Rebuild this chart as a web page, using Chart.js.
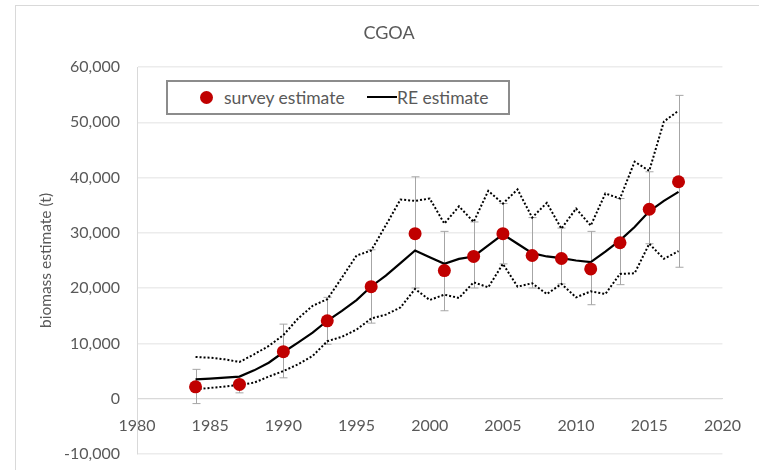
<!DOCTYPE html>
<html>
<head>
<meta charset="utf-8">
<title>CGOA</title>
<script src="https://cdn.jsdelivr.net/npm/chart.js@4"></script>
<style>
  html, body { margin: 0; padding: 0; background: #fff; overflow: hidden; }
  #wrap { position: relative; width: 759px; height: 470px; overflow: hidden; }
  #frame { position: absolute; left: 15px; top: 5px; width: 800px; height: 500px; border: 1px solid #d9d9d9; }
  #chart { position: absolute; left: 0; top: 0; }
  #legend { position: absolute; left: 166px; top: 80px; width: 340px; height: 31px; border: 2px solid #8c8c8c;
            font: 17.5px Lato, sans-serif; color: #595959; background: #fff; }
  #legend .txt { position: absolute; top: 0; line-height: 31px; white-space: nowrap; }
  #legend .dot { position: absolute; left: 32px; top: 9px; width: 13px; height: 13px; border-radius: 50%; background: #c00000; }
  #legend .line { position: absolute; left: 199px; top: 14px; width: 30px; height: 0; border-top: 2px solid #000; }
</style>
</head>
<body>
<div id="wrap">
  <div id="frame"></div>
  <canvas id="chart" width="759" height="470"></canvas>
  <div id="legend">
    <span class="dot"></span><span class="txt" style="left:56px">survey estimate</span>
    <span class="line"></span><span class="txt" style="left:229px">RE estimate</span>
  </div>
</div>
<script>
// survey years with estimate and the ends of its error bar
const surveyYears = [1984, 1987, 1990, 1993, 1996, 1999, 2001, 2003, 2005, 2007, 2009, 2011, 2013, 2015, 2017];
const survey     = [2150, 2580, 8510, 14090, 20270, 29850, 23180, 25730, 29850, 25900, 25360, 23480, 28210, 34270, 39240];
const surveyLow  = [-880, 1060, 3780, 9850, 13670, 20030, 15910, 20030, 24390, 20030, 20760, 17000, 20630, 28030, 23780];
const surveyHigh = [5310, 3300, 13490, 18330, 26940, 40140, 30270, 31970, 35300, 32760, 30870, 30270, 36210, 41050, 54870];

// random effects model, one value per year
const years = [1984, 1985, 1986, 1987, 1988, 1989, 1990, 1991, 1992, 1993, 1994, 1995, 1996, 1997, 1998, 1999, 2000,
               2001, 2002, 2003, 2004, 2005, 2006, 2007, 2008, 2009, 2010, 2011, 2012, 2013, 2014, 2015, 2016, 2017];
const reEst = [3490, 3650, 3800, 4000, 5130, 6510, 8400, 10150, 11960, 14100, 15900, 17850, 20300, 22270, 24510, 26820, 25600,
               24390, 25300, 25730, 27730, 29720, 28030, 26330, 25730, 25420, 25000, 24690, 26600, 28630, 31050, 33900, 35780, 37420];
const reUpper = [7540, 7420, 7120, 6640, 8030, 9540, 11500, 14500, 16800, 18000, 21900, 25900, 26800, 31360, 36030, 35780, 36210,
                 31670, 34800, 31970, 37600, 35300, 37850, 32760, 35420, 30760, 34400, 31300, 37120, 36210, 42870, 41230, 50140, 52090];
const reLower = [1700, 1950, 2200, 2500, 2900, 4000, 5000, 6220, 7730, 10400, 11200, 12500, 14500, 15200, 16500, 19850, 17850,
                 18820, 18220, 21050, 20150, 24390, 20270, 20880, 18940, 20760, 18330, 19420, 18940, 22580, 22690, 28030, 25300, 26690];

const yTicksMin = -10000;
const yTicksMax = 60000;
const xTicksMin = 1980;
const xTicksMax = 2020;

const textColor = '#595959';
Chart.defaults.font.family = 'Lato, sans-serif';

const pts = (xs, ys) => xs.map((x, i) => ({ x, y: ys[i] }));

// gray survey error bars, drawn below the lines
const errorBars = {
  id: 'errorBars',
  beforeDatasetsDraw(chart) {
    const { ctx, scales: { x, y } } = chart;
    ctx.save();
    ctx.strokeStyle = '#a6a6a6';
    ctx.lineWidth = 1;
    surveyYears.forEach((yr, i) => {
      const px = Math.round(x.getPixelForValue(yr)) + 0.5;
      const top = y.getPixelForValue(surveyHigh[i]);
      const bot = y.getPixelForValue(surveyLow[i]);
      ctx.beginPath();
      ctx.moveTo(px, top); ctx.lineTo(px, bot);
      ctx.moveTo(px - 4, top); ctx.lineTo(px + 4, top);
      ctx.moveTo(px - 4, bot); ctx.lineTo(px + 4, bot);
      ctx.stroke();
    });
    ctx.restore();
  }
};

const dotted = { borderColor: '#000', borderWidth: 2, borderDash: [2, 2], pointRadius: 0, fill: false, tension: 0 };

new Chart(document.getElementById('chart'), {
  type: 'line',
  data: {
    datasets: [
      { label: 'survey estimate', data: pts(surveyYears, survey), showLine: false,
        pointRadius: 6.5, pointBackgroundColor: '#c00000', pointBorderWidth: 0 },
      { label: 'RE estimate', data: pts(years, reEst), borderColor: '#000', borderWidth: 2.2, pointRadius: 0, tension: 0 },
      { label: 'upper', data: pts(years, reUpper), ...dotted },
      { label: 'lower', data: pts(years, reLower), ...dotted }
    ]
  },
  options: {
    responsive: false,
    animation: false,
    layout: { padding: { left: 19, right: 0, top: 0, bottom: 16 } },
    plugins: {
      legend: { display: false },
      tooltip: { enabled: false },
      title: {
        display: true, text: 'CGOA', color: textColor,
        font: { size: 18, weight: 'normal' },
        padding: { top: 22.2, bottom: 23.2 }
      }
    },
    scales: {
      x: {
        type: 'linear', position: { y: 0 }, min: xTicksMin, max: xTicksMax,
        grid: { display: false, drawTicks: false },
        border: { color: '#d9d9d9' },
        ticks: { stepSize: 5, padding: 18, color: textColor, font: { size: 16 }, callback: v => String(v) }
      },
      y: {
        type: 'linear', position: 'left', min: yTicksMin, max: yTicksMax,
        afterFit: s => { s.width = 118; },
        // invisible tick marks keep the labels off the axis without extra bottom padding
        grid: { color: '#ececec', lineWidth: 1.5, drawTicks: true, tickLength: 17, tickColor: 'rgba(0,0,0,0)' },
        border: { color: '#d9d9d9' },
        ticks: { stepSize: 10000, padding: 0, color: textColor, font: { size: 16 }, callback: v => v.toLocaleString('en-US') },
        title: { display: true, text: 'biomass estimate (t)', color: textColor, font: { size: 15.5 }, padding: { top: 18, bottom: 0 } }
      },
      // empty right axis, only keeps space on the right of the plot
      pad: {
        type: 'linear', position: 'right',
        afterFit: s => { s.width = 31; },
        grid: { display: false, drawTicks: false },
        border: { display: false },
        ticks: { display: false }
      }
    }
  },
  plugins: [errorBars]
});
</script>
</body>
</html>
